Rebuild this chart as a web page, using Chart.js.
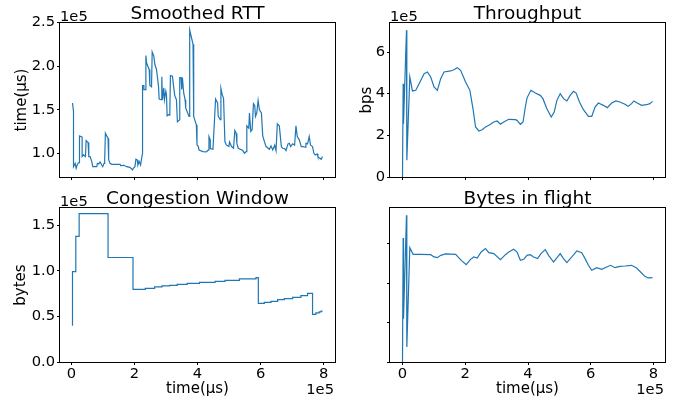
<!DOCTYPE html>
<html>
<head>
<meta charset="utf-8">
<title>TCP connection trace</title>
<script src="https://cdn.jsdelivr.net/npm/chart.js@4.4.0/dist/chart.umd.min.js"></script>
<style>
  body { margin: 0; background: #fff; }
  #wrap { position: relative; width: 681px; height: 401px; }
  #wrap canvas { position: absolute; left: 0; top: 0; }
</style>
</head>
<body>
<div id="wrap">
  <canvas id="rttChart" width="681" height="401"></canvas>
  <canvas id="throughputChart" width="681" height="401"></canvas>
  <canvas id="cwndChart" width="681" height="401"></canvas>
  <canvas id="inflightChart" width="681" height="401"></canvas>
</div>
<script>
// --- DATA ---

// shared tick positions (µs on x)
const timeTicks = [0, 200000, 400000, 600000, 800000];
const rttTicks = [100000, 150000, 200000, 250000];
const throughputTicks = [0, 200000, 400000, 600000];
const cwndTicks = [0, 50000, 100000, 150000];
const inflightTicks = [0, 50000, 100000, 150000];

// smoothed RTT samples (µs)
const rttTime = [
  2100, 5300, 5300, 10600, 13700, 17900, 22200, 24300, 24300, 32700,
  32700, 36900, 43300, 45400, 51700, 53800, 58000, 63300, 66500, 79100,
  81200, 85500, 89700, 95000, 98100, 102300, 104400, 106600, 110800, 115000,
  117100, 121300, 126600, 153000, 155100, 165600, 174100, 184600, 193100, 195200,
  200500, 203600, 207800, 209900, 214200, 218400, 222600, 224700, 224700, 228900,
  228900, 235300, 235300, 237400, 241600, 245800, 247900, 253200, 255300, 260600,
  263800, 269000, 275400, 277500, 283800, 285900, 288000, 292200, 294300, 298600,
  300700, 302800, 307000, 311200, 313300, 319700, 323900, 327100, 332300, 335500,
  342900, 342900, 347100, 349200, 351300, 355500, 359800, 361900, 372400, 374500,
  380900, 385100, 387200, 395600, 397700, 402000, 404100, 416700, 427300, 433600,
  435700, 439900, 439900, 448400, 456800, 463100, 465300, 471600, 473700, 477900,
  482100, 486400, 490600, 499000, 501100, 507500, 513800, 518000, 522200, 524300,
  528600, 543300, 548600, 553900, 556000, 562300, 564400, 568600, 572900, 577100,
  581300, 583400, 587600, 591900, 596100, 602400, 606600, 611900, 617200, 627700,
  633000, 638300, 644600, 648800, 653000, 659300, 665700, 669900, 676300, 680500,
  686800, 691000, 695200, 701600, 707900, 712100, 716300, 722700, 729000, 735300,
  741700, 743800, 749000, 754300, 758500, 764900, 769100, 773300, 779600, 781800,
  788100, 792300, 796500
];
const rttValue = [
  157700, 148100, 84600, 88500, 82700, 87700, 89200, 89200, 120000, 118500,
  96200, 98100, 96200, 114600, 112300, 96200, 96200, 90400, 84600, 84600,
  88500, 87700, 90000, 86500, 84600, 88500, 92300, 123100, 120000, 117300,
  92300, 88500, 87300, 87300, 85800, 86200, 84600, 83800, 80800, 82700,
  84600, 93100, 92300, 86500, 90400, 86500, 96200, 100000, 177700, 177700,
  173100, 173100, 212300, 203800, 200000, 196200, 177700, 176200, 216200, 211500,
  201900, 196200, 176900, 162300, 161500, 187700, 161500, 175000, 161500, 171200,
  167300, 143100, 144200, 143800, 189200, 188500, 175000, 166200, 161500, 136200,
  138500, 186900, 186900, 173100, 186900, 169200, 161500, 151900, 142300, 241500,
  231500, 225000, 142300, 132700, 109600, 107700, 103800, 101900, 101500, 103800,
  119200, 115400, 105400, 104600, 162300, 157700, 142300, 138500, 174600, 167300,
  163100, 113500, 109600, 107700, 113100, 107700, 105800, 126200, 123100, 111500,
  105800, 103100, 100000, 101900, 131500, 128800, 146200, 125000, 126900, 156900,
  154600, 142300, 146200, 160800, 150000, 146200, 120000, 113500, 107700, 104600,
  108500, 103800, 109200, 103100, 133800, 131500, 107700, 105800, 105400, 103100,
  110800, 111500, 107700, 110800, 109200, 131500, 119200, 115400, 107700, 107700,
  106900, 111500, 110800, 119200, 109200, 107700, 100000, 98100, 99200, 96200,
  94200, 93100, 96200
];

// throughput samples (bps)
const throughputTime = [
  0, 2100, 3200, 12700, 13800, 23300, 31700, 42300, 52900, 68800,
  79400, 89900, 100500, 111100, 121700, 132300, 153400, 164000, 174600, 185200,
  201000, 214800, 225400, 232800, 243300, 253900, 264500, 275100, 291000, 301500,
  312100, 322700, 338600, 359700, 365000, 375600, 384100, 391500, 396800, 409400,
  423200, 439100, 447500, 460200, 474000, 483500, 492000, 502600, 513100, 523700,
  534300, 544900, 553300, 563900, 576600, 592500, 603100, 613600, 624200, 640100,
  652800, 666500, 680300, 693000, 708900, 719400, 730000, 737400, 748000, 761800,
  777600, 788200, 796700
];
const throughputValue = [
  0, 448000, 256000, 704000, 80000, 480000, 413000, 416000, 448000, 496000,
  504000, 480000, 432000, 416000, 472000, 504000, 509000, 515000, 525000, 512000,
  456000, 416000, 320000, 240000, 221000, 227000, 240000, 248000, 264000, 269000,
  253000, 264000, 277000, 275000, 272000, 253000, 264000, 336000, 380000, 416000,
  403000, 392000, 376000, 328000, 288000, 312000, 368000, 400000, 376000, 365000,
  392000, 411000, 403000, 360000, 323000, 291000, 291000, 336000, 355000, 344000,
  333000, 355000, 365000, 360000, 349000, 339000, 352000, 365000, 355000, 344000,
  347000, 352000, 363000
];

// congestion window change points (bytes)
const cwndTime = [
  3200, 3200, 13700, 24300, 116000, 195200, 234200, 263800, 287000, 311200,
  335500, 367100, 406200, 455800, 487400, 532800, 585500, 592900, 611900, 633000,
  654100, 675200, 701600, 728000, 749100, 764900, 775400, 786000, 792000, 796500
];
const cwndValue = [
  39700, 99300, 137900, 162900, 114700, 79800, 80900, 82400, 83500, 84200,
  85300, 86400, 87500, 88600, 89700, 91200, 92600, 64300, 65400, 66500,
  68400, 69500, 71000, 72800, 75400, 52200, 54000, 55100, 55900, 55900
];

// bytes in flight samples (bytes)
const inflightTime = [
  0, 2100, 3200, 12700, 13800, 23300, 33900, 58200, 89900, 100500,
  111100, 121700, 137500, 169300, 187300, 203100, 216900, 227500, 238100, 250700,
  264500, 275100, 291000, 312100, 328000, 338600, 354400, 365000, 375600, 386200,
  396800, 407300, 417900, 430600, 441200, 454900, 465500, 481400, 492000, 502600,
  513100, 523700, 539600, 555500, 571300, 581900, 592500, 603100, 619000, 634800,
  650700, 663400, 677100, 693000, 708900, 730000, 745900, 758600, 772300, 782900,
  796700
];
const inflightValue = [
  0, 157600, 55100, 186400, 19000, 145300, 136900, 136900, 136400, 133500,
  132600, 135600, 137300, 136900, 129200, 123700, 130500, 133500, 132200, 139800,
  144100, 139000, 137700, 130100, 136400, 139800, 143200, 139800, 129200, 130500,
  135600, 136400, 133500, 131400, 137700, 142800, 135600, 127100, 132200, 137700,
  131400, 126300, 133500, 141100, 139000, 131400, 122900, 116500, 119900, 117800,
  120800, 122900, 119900, 121600, 122000, 122900, 119500, 114400, 108900, 106800,
  107200
];

// --- STYLE ---

const LINE_COLOR = "#1f77b4";
const INK = "#000";
const FONT_FAMILY = "DejaVu Sans";
const TICK_FONT = { family: FONT_FAMILY, size: 14.7 };
const LABEL_FONT = { family: FONT_FAMILY, size: 15 };
const FIG_W = 681;
const FIG_H = 401;

Chart.defaults.font.family = FONT_FAMILY;
Chart.defaults.color = INK;

// --- HELPERS ---

// autoscale like matplotlib: 5% of the data range on each side
function axisLimits(values, fromZero) {
  const lo = Math.min(...values);
  const hi = Math.max(...values);
  const pad = (hi - lo) * 0.05;
  return { min: fromZero ? 0 : lo - pad, max: hi + pad };
}

function toPoints(xs, ys) {
  return xs.map((x, i) => ({ x: x, y: ys[i] }));
}

// values are shown in units of 1e5, the exponent goes to the axis corner
function sci(digits) {
  return (value) => (value / 1e5).toFixed(digits);
}

// frame, panel title and the "1e5" offset labels
const panelDecor = {
  id: "panelDecor",
  afterDraw(chart, args, opts) {
    const { ctx, chartArea } = chart;
    const { left, top, right, bottom } = chartArea;
    ctx.save();
    ctx.strokeStyle = INK;
    ctx.lineWidth = 1;
    ctx.strokeRect(Math.round(left) - 0.5, Math.round(top) - 0.5,
      Math.round(right - left) + 1, Math.round(bottom - top) + 1);

    ctx.fillStyle = INK;
    ctx.textBaseline = "alphabetic";
    ctx.font = "18.5px " + FONT_FAMILY;
    ctx.textAlign = "center";
    ctx.fillText(opts.title, (left + right) / 2, top - 4);

    ctx.font = TICK_FONT.size + "px " + FONT_FAMILY;
    if (opts.yOffset) {
      ctx.textAlign = "left";
      ctx.fillText("1e5", left, top - 1.6);
    }
    if (opts.xOffset) {
      ctx.textAlign = "right";
      ctx.fillText("1e5", right - 1, bottom + 31.5);
    }
    ctx.restore();
  },
};

// builds one subplot; box = plot area in page pixels
function makePanel(canvasId, cfg) {
  const box = cfg.box;
  const xLim = axisLimits(cfg.x, false);
  const yLim = axisLimits(cfg.y, cfg.yFromZero);
  const tickMarks = {
    display: true,
    drawOnChartArea: false,
    drawTicks: true,
    tickLength: 3,
    tickColor: INK,
    tickWidth: 1,
  };

  return new Chart(document.getElementById(canvasId), {
    type: "line",
    data: {
      datasets: [{
        data: toPoints(cfg.x, cfg.y),
        borderColor: LINE_COLOR,
        borderWidth: 1.2,
        pointRadius: 0,
        tension: 0,
        stepped: cfg.stepped || false,
        fill: false,
      }],
    },
    options: {
      responsive: false,
      animation: false,
      devicePixelRatio: 1,
      layout: {
        padding: { left: box.padLeft, top: box.top, right: FIG_W - box.right, bottom: 0 },
      },
      plugins: {
        legend: { display: false },
        tooltip: { enabled: false },
        panelDecor: { title: cfg.title, yOffset: cfg.yOffset, xOffset: cfg.showX },
      },
      scales: {
        x: {
          type: "linear",
          min: xLim.min,
          max: xLim.max,
          grid: tickMarks,
          border: { display: false },
          afterBuildTicks: (scale) => {
            scale.ticks = timeTicks.map((v) => ({ value: v }));
          },
          afterFit: (scale) => {
            scale.height = FIG_H - box.bottom;
          },
          ticks: {
            display: cfg.showX,
            autoSkip: false,
            maxRotation: 0,
            padding: 0,
            font: TICK_FONT,
            color: INK,
            callback: sci(0),
          },
          title: {
            display: cfg.showX,
            text: "time(µs)",
            font: LABEL_FONT,
            color: INK,
            padding: { top: 0, bottom: 2.5 },
          },
        },
        y: {
          type: "linear",
          min: yLim.min,
          max: yLim.max,
          grid: tickMarks,
          border: { display: false },
          afterBuildTicks: (scale) => {
            scale.ticks = cfg.yTicks.map((v) => ({ value: v }));
          },
          afterFit: (scale) => {
            scale.width = box.left - box.padLeft;
          },
          ticks: {
            display: cfg.yDigits !== null,
            autoSkip: false,
            padding: 2,
            font: TICK_FONT,
            color: INK,
            callback: sci(cfg.yDigits || 0),
          },
          title: {
            display: !!cfg.yLabel,
            text: cfg.yLabel || "",
            font: LABEL_FONT,
            color: INK,
            padding: { top: cfg.yLabelPad || 0, bottom: 0 },
          },
        },
      },
    },
    plugins: [panelDecor],
  });
}

// --- PANELS ---

const topRow = { top: 23, bottom: 177 };
const bottomRow = { top: 208, bottom: 362 };
const leftCol = { padLeft: 0, left: 60, right: 335 };
const rightCol = { padLeft: 340, left: 390, right: 665 };

makePanel("rttChart", {
  box: { ...leftCol, ...topRow },
  title: "Smoothed RTT",
  x: rttTime,
  y: rttValue,
  yTicks: rttTicks,
  yDigits: 1,
  yFromZero: false,
  yOffset: true,
  yLabel: "time(µs)",
  yLabelPad: 13,
  showX: false,
});

makePanel("throughputChart", {
  box: { ...rightCol, ...topRow },
  title: "Throughput",
  x: throughputTime,
  y: throughputValue,
  yTicks: throughputTicks,
  yDigits: 0,
  yFromZero: true,
  yOffset: true,
  yLabel: "bps",
  yLabelPad: 18,
  showX: false,
});

// cwnd holds its value until the next change point
makePanel("cwndChart", {
  box: { ...leftCol, ...bottomRow },
  title: "Congestion Window",
  x: cwndTime,
  y: cwndValue,
  yTicks: cwndTicks,
  yDigits: 1,
  yFromZero: true,
  yOffset: true,
  yLabel: "bytes",
  yLabelPad: 12,
  showX: true,
  stepped: "before",
});

makePanel("inflightChart", {
  box: { ...rightCol, ...bottomRow },
  title: "Bytes in flight",
  x: inflightTime,
  y: inflightValue,
  yTicks: inflightTicks,
  yDigits: null,
  yFromZero: true,
  yOffset: false,
  yLabel: null,
  showX: true,
});
</script>
</body>
</html>
